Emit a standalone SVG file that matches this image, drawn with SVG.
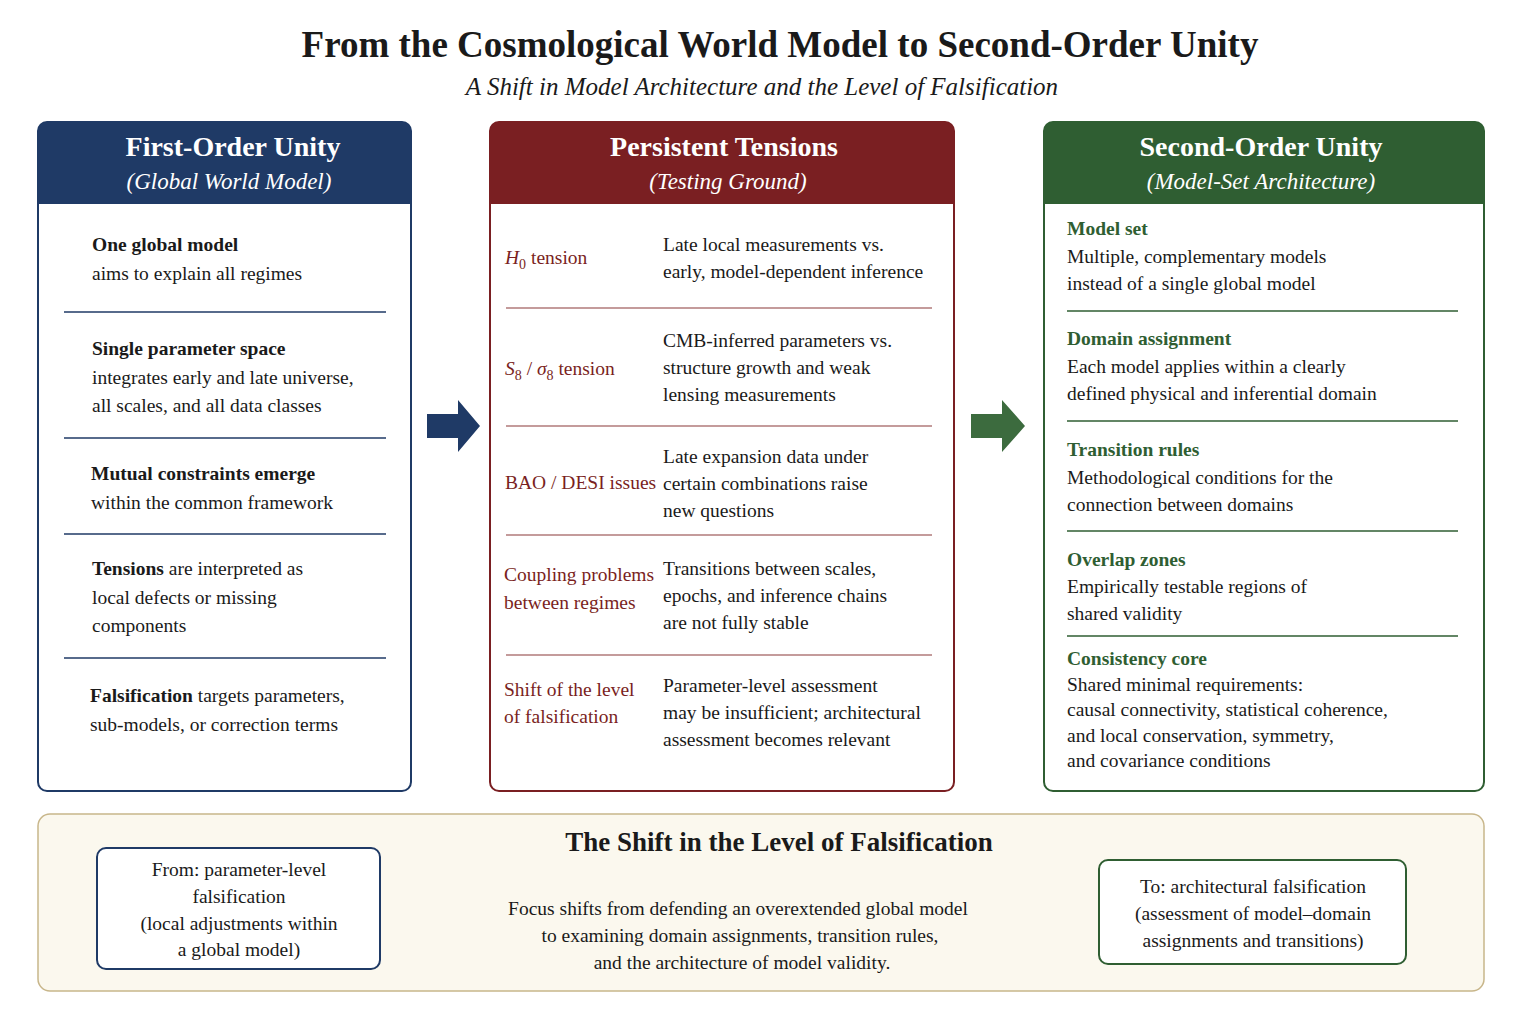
<svg xmlns="http://www.w3.org/2000/svg" width="1536" height="1024" viewBox="0 0 1536 1024">
<style>
text{font-family:"Liberation Serif","DejaVu Serif",serif;fill:#1a1a1a}
.t{font-size:37px;font-weight:bold;text-anchor:middle}
.st{font-size:25px;font-style:italic;text-anchor:middle}
.h{font-size:28px;font-weight:bold;fill:#fff;text-anchor:middle}
.hs{font-size:23px;font-style:italic;fill:#fff;text-anchor:middle}
.b{font-size:19.5px}
.bb{font-weight:bold}
.r{fill:#7a1f22}
.g{fill:#2f5e32;font-weight:bold}
.c{text-anchor:middle}
.ln{stroke-width:1.3}
</style>
<defs>
<marker id="ah" viewBox="0 0 10 10" refX="9" refY="5" markerWidth="6" markerHeight="6" orient="auto"><path d="M0,0L10,5L0,10z" fill="#1f2d52"/></marker>
</defs>
<rect width="1536" height="1024" fill="#fff"/>
<text class="t" x="780" y="57">From the Cosmological World Model to Second-Order Unity</text>
<text class="st" x="762" y="95">A Shift in Model Architecture and the Level of Falsification</text>

<g id="first">
<rect x="38" y="122" width="373" height="669" rx="9" fill="#fff" stroke="#1f3a66" stroke-width="2"/>
<path d="M38,204V131a9,9 0 0 1 9-9H402a9,9 0 0 1 9,9V204z" fill="#1f3a66"/>
<text class="h" x="233" y="156">First-Order Unity</text>
<text class="hs" x="229" y="189">(Global World Model)</text>
<g stroke="#1f3a66" class="ln"><line x1="64" y1="312" x2="386" y2="312"/><line x1="64" y1="438" x2="386" y2="438"/><line x1="64" y1="534" x2="386" y2="534"/><line x1="64" y1="658" x2="386" y2="658"/></g>
<text class="b" x="92" y="251"><tspan class="bb">One global model</tspan><tspan x="92" dy="29">aims to explain all regimes</tspan></text>
<text class="b" x="92" y="355"><tspan class="bb">Single parameter space</tspan><tspan x="92" dy="29">integrates early and late universe,</tspan><tspan x="92" dy="28">all scales, and all data classes</tspan></text>
<text class="b" x="91" y="480"><tspan class="bb">Mutual constraints emerge</tspan><tspan x="91" dy="29">within the common framework</tspan></text>
<text class="b" x="92" y="575"><tspan class="bb">Tensions</tspan> are interpreted as<tspan x="92" dy="29">local defects or missing</tspan><tspan x="92" dy="28">components</tspan></text>
<text class="b" x="90" y="702"><tspan class="bb">Falsification</tspan> targets parameters,<tspan x="90" dy="29">sub-models, or correction terms</tspan></text>
</g>

<g id="tensions">
<rect x="490" y="122" width="464" height="669" rx="9" fill="#fff" stroke="#7a1f22" stroke-width="2"/>
<path d="M490,204V131a9,9 0 0 1 9-9H945a9,9 0 0 1 9,9V204z" fill="#7a1f22"/>
<text class="h" x="724" y="156">Persistent Tensions</text>
<text class="hs" x="728" y="189">(Testing Ground)</text>
<g stroke="#b07a7a" class="ln"><line x1="506" y1="308" x2="932" y2="308"/><line x1="506" y1="426" x2="932" y2="426"/><line x1="506" y1="535" x2="932" y2="535"/><line x1="506" y1="655" x2="932" y2="655"/></g>
<text class="b r" x="505" y="264" font-size="21"><tspan font-style="italic">H</tspan><tspan font-size="14" dy="5">0</tspan><tspan dy="-5"> tension</tspan></text>
<text class="b r" x="505" y="375" font-size="21"><tspan font-style="italic">S</tspan><tspan font-size="14" dy="5">8</tspan><tspan dy="-5"> / </tspan><tspan font-style="italic">σ</tspan><tspan font-size="14" dy="5">8</tspan><tspan dy="-5"> tension</tspan></text>
<text class="b r" x="505" y="489" font-size="18.5">BAO / DESI issues</text>
<text class="b r" x="504" y="581" font-size="18.5">Coupling problems<tspan x="504" dy="28">between regimes</tspan></text>
<text class="b r" x="504" y="696" font-size="18.5">Shift of the level<tspan x="504" dy="27">of falsification</tspan></text>
<g class="b">
<text class="b" x="663" y="251">Late local measurements vs.<tspan x="663" dy="27">early, model-dependent inference</tspan></text>
<text class="b" x="663" y="347">CMB-inferred parameters vs.<tspan x="663" dy="27">structure growth and weak</tspan><tspan x="663" dy="27">lensing measurements</tspan></text>
<text class="b" x="663" y="463">Late expansion data under<tspan x="663" dy="27">certain combinations raise</tspan><tspan x="663" dy="27">new questions</tspan></text>
<text class="b" x="663" y="575">Transitions between scales,<tspan x="663" dy="27">epochs, and inference chains</tspan><tspan x="663" dy="27">are not fully stable</tspan></text>
<text class="b" x="663" y="692">Parameter-level assessment<tspan x="663" dy="27">may be insufficient; architectural</tspan><tspan x="663" dy="27">assessment becomes relevant</tspan></text>
</g>
</g>

<g id="second">
<rect x="1044" y="122" width="440" height="669" rx="9" fill="#fff" stroke="#2f5e32" stroke-width="2"/>
<path d="M1044,204V131a9,9 0 0 1 9-9H1475a9,9 0 0 1 9,9V204z" fill="#2f5e32"/>
<text class="h" x="1261" y="156">Second-Order Unity</text>
<text class="hs" x="1261" y="189">(Model-Set Architecture)</text>
<g stroke="#2f5e32" class="ln"><line x1="1067" y1="311" x2="1458" y2="311"/><line x1="1067" y1="421" x2="1458" y2="421"/><line x1="1067" y1="531" x2="1458" y2="531"/><line x1="1067" y1="636" x2="1458" y2="636"/></g>
<text class="b" x="1067" y="235"><tspan class="g">Model set</tspan><tspan x="1067" dy="28">Multiple, complementary models</tspan><tspan x="1067" dy="27">instead of a single global model</tspan></text>
<text class="b" x="1067" y="345"><tspan class="g">Domain assignment</tspan><tspan x="1067" dy="28">Each model applies within a clearly</tspan><tspan x="1067" dy="27">defined physical and inferential domain</tspan></text>
<text class="b" x="1067" y="456"><tspan class="g">Transition rules</tspan><tspan x="1067" dy="28">Methodological conditions for the</tspan><tspan x="1067" dy="27">connection between domains</tspan></text>
<text class="b" x="1067" y="566"><tspan class="g">Overlap zones</tspan><tspan x="1067" dy="27">Empirically testable regions of</tspan><tspan x="1067" dy="27">shared validity</tspan></text>
<text class="b" x="1067" y="665"><tspan class="g">Consistency core</tspan><tspan x="1067" dy="26">Shared minimal requirements:</tspan><tspan x="1067" dy="25">causal connectivity, statistical coherence,</tspan><tspan x="1067" dy="26">and local conservation, symmetry,</tspan><tspan x="1067" dy="25">and covariance conditions</tspan></text>
</g>

<g id="connectors">
<path d="M427,414H458V400L480,426L458,452V438H427z" fill="#1f3a66"/>
<path d="M971,414H1002V400L1025,426L1002,452V438H971z" fill="#3c6b3e"/>
<line x1="418" y1="884" x2="1060" y2="884" stroke="#1f2d52" stroke-width="3" marker-end="url(#ah)"/>
</g>

<g id="shift">
<rect x="38" y="814" width="1446" height="177" rx="12" fill="#fbf8ee" stroke="#c8b68a" stroke-width="1.5"/>
<text x="779" y="851" font-size="27" font-weight="bold" text-anchor="middle">The Shift in the Level of Falsification</text>
<text class="b c" x="738" y="915">Focus shifts from defending an overextended global model<tspan x="740" dy="27">to examining domain assignments, transition rules,</tspan><tspan x="742" dy="27">and the architecture of model validity.</tspan></text>
</g>
<g id="from">
<rect x="97" y="848" width="283" height="121" rx="9" fill="#fff" stroke="#1f3a66" stroke-width="2"/>
<text class="b c" x="239" y="876">From: parameter-level<tspan x="239" dy="27">falsification</tspan><tspan x="239" dy="27">(local adjustments within</tspan><tspan x="239" dy="26">a global model)</tspan></text>
</g>
<g id="to">
<rect x="1099" y="860" width="307" height="104" rx="9" fill="#fff" stroke="#2f5e32" stroke-width="2"/>
<text class="b c" x="1253" y="893">To: architectural falsification<tspan x="1253" dy="27">(assessment of model–domain</tspan><tspan x="1253" dy="27">assignments and transitions)</tspan></text>
</g>
</svg>
